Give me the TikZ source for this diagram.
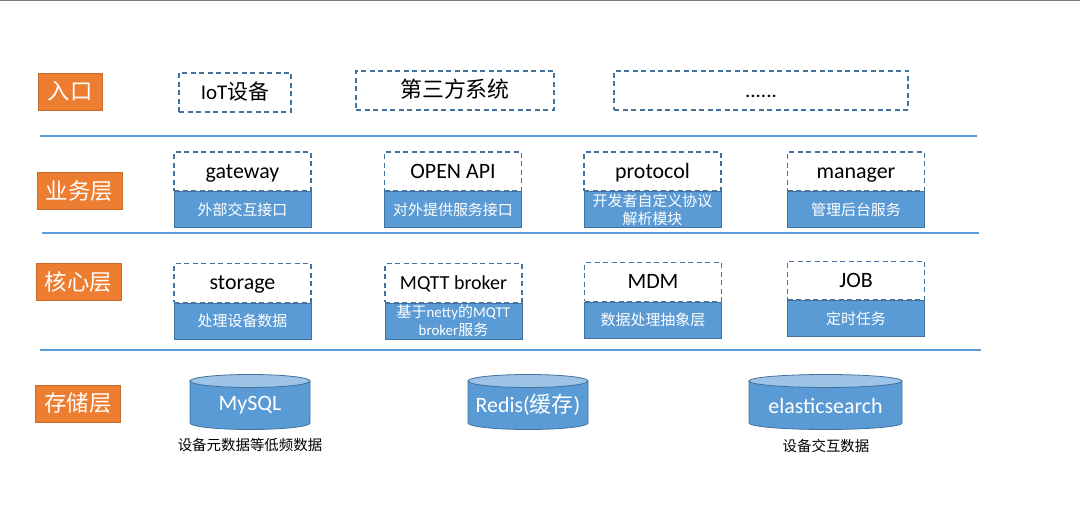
\documentclass[tikz,border=0pt]{standalone}
\usepackage{fontspec}
\setmainfont{Carlito}
\newfontfamily\cjk{Noto Sans CJK SC}
\usepackage{tikz}
\usetikzlibrary{positioning}
\definecolor{layerorange}{RGB}{237,125,49}
\definecolor{boxblue}{RGB}{91,155,213}
\definecolor{edgeblue}{RGB}{65,113,156}
\definecolor{lidblue}{RGB}{157,195,230}
\definecolor{rulegray}{RGB}{120,120,120}

\tikzset{
 layerbox/.style={fill=layerorange,draw=layerorange!85!black,line width=.6bp,text=white,
   minimum width=85bp,minimum height=37bp,inner sep=0pt,font=\cjk\fontsize{22.5}{24}\selectfont},
 entrybox/.style={draw=edgeblue,line width=1.2bp,dash pattern=on 5bp off 3.5bp,
   minimum height=39bp,inner sep=0pt,text height=15bp,text depth=1bp,
   font=\fontsize{21}{24}\selectfont},
 modbox/.style={entrybox,minimum width=137bp,minimum height=38.5bp,fill=white,
   text height=15bp,text depth=1.5bp,font=\fontsize{22}{24}\selectfont},
 descbox/.style={fill=boxblue,draw=edgeblue,line width=.8bp,text=white,minimum width=137bp,
   minimum height=36bp,inner sep=0pt,align=center,font=\cjk\fontsize{15}{18}\selectfont},
 dbtext/.style={text=white,font=\fontsize{22}{24}\selectfont},
 dbnote/.style={font=\cjk\fontsize{14.5}{17}\selectfont},
 sepline/.style={boxblue,line width=1.5bp}
}

\begin{document}
\begin{tikzpicture}[x=1bp,y=-1bp]
\useasboundingbox (0,0) rectangle (1080,519);
\draw[rulegray,line width=1.5bp] (0,0.75) -- (1080,0.75);
% layer labels
\node[layerbox,minimum width=64bp] (entry) at (70,91.5) {入口};
\node[layerbox] (biz) at (79.5,191) {业务层};
\node[layerbox] (core) at (78.5,282) {核心层};
\node[layerbox] (store) at (78,403.5) {存储层};
% separators
\foreach \yy/\xa/\xb in {136/40/977,233/42/979,350/40/981}
 \draw[sepline] (\xa,\yy) -- (\xb,\yy);
% entry
\node[entrybox,minimum width=112bp] (iot) at (235,92.5) {IoT{\cjk 设备}};
\node[entrybox,minimum width=198bp,font=\cjk\fontsize{22}{24}\selectfont] (third) at (455,90.5) {第三方系统};
\node[entrybox,minimum width=294bp] (more) at (761,90.5) {......};
% business layer
\node[modbox] (gateway) at (242.5,171.3) {gateway};
\node[descbox,below=0pt of gateway] (gatewaydesc) {外部交互接口};
\node[modbox] (openapi) at (453,171.3) {OPEN API};
\node[descbox,below=0pt of openapi] (openapidesc) {对外提供服务接口};
\node[modbox] (protocol) at (652.5,171.3) {protocol};
\node[descbox,below=0pt of protocol] (protocoldesc) {开发者自定义协议\\解析模块};
\node[modbox] (manager) at (856,171.3) {manager};
\node[descbox,below=0pt of manager] (managerdesc) {管理后台服务};
% core layer
\node[modbox] (storage) at (242.5,283) {storage};
\node[descbox,below=0pt of storage] (storagedesc) {处理设备数据};
\node[modbox,font=\fontsize{20}{22}\selectfont] (broker) at (453.5,283) {MQTT broker};
\node[descbox,below=0pt of broker] (brokerdesc) {基于{\rmfamily netty}的{\rmfamily MQTT}\\{\rmfamily broker}服务};
\node[modbox] (mdm) at (653,282) {MDM};
\node[descbox,below=0pt of mdm] (mdmdesc) {数据处理抽象层};
\node[modbox] (job) at (856,280.5) {JOB};
\node[descbox,below=0pt of job] (jobdesc) {定时任务};
% storage layer
\foreach \cx/\rx in {250/60,528/60,825.5/76.5}{
 \fill[boxblue,draw=edgeblue,line width=.8bp] (\cx-\rx,381) -- (\cx-\rx,423)
  arc[start angle=180,end angle=0,x radius=\rx,y radius=6.5] -- (\cx+\rx,381) -- cycle;
 \draw[fill=lidblue,draw=edgeblue,line width=.8bp] (\cx,381) ellipse[x radius=\rx,y radius=6.5];
}
\node[dbtext] (mysql) at (250,405) {MySQL};
\node[dbtext] (redis) at (528,405) {Redis({\cjk 缓存})};
\node[dbtext] (es) at (825.5,406) {elasticsearch};
\node[dbnote] (mysqlnote) at (250,445) {设备元数据等低频数据};
\node[dbnote] (esnote) at (826,446) {设备交互数据};
\end{tikzpicture}
\end{document}
